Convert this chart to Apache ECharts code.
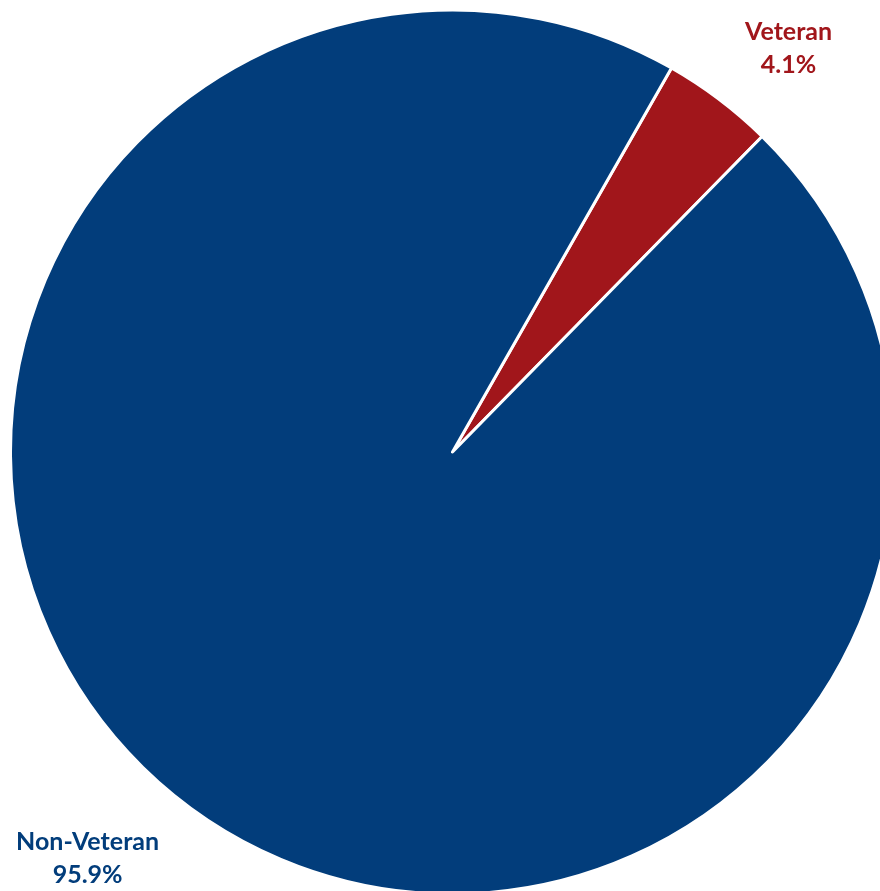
<!DOCTYPE html>
<html>
<head>
<meta charset="utf-8">
<script src="https://cdn.jsdelivr.net/npm/echarts@6/dist/echarts.min.js"></script>
<style>
html,body{margin:0;padding:0;background:#fff;}
#chart{width:880px;height:891px;}
</style>
</head>
<body>
<div id="chart"></div>
<script>
const categories = ['Veteran', 'Non-Veteran'];
const shares = [4.1, 95.9];
const sliceColors = ['#A1161B', '#023D7B'];
const lineLen = [64, 67];
const lineLen2 = [26, 53];

const chart = echarts.init(document.getElementById('chart'), null, {renderer: 'canvas'});
const data = categories.map((name, i) => ({
  name: name,
  value: shares[i],
  itemStyle: {color: sliceColors[i]},
  label: {color: sliceColors[i]},
  labelLine: {length: lineLen[i], length2: lineLen2[i]}
}));
chart.setOption({
  animation: false,
  backgroundColor: '#ffffff',
  series: [{
    type: 'pie',
    center: [452.5, 452],
    radius: 442,
    startAngle: 60.3,
    clockwise: true,
    avoidLabelOverlap: false,
    data: data,
    itemStyle: {borderColor: '#ffffff', borderWidth: 3},
    label: {
      show: true,
      position: 'outside',
      alignTo: 'none',
      width: 180,
      overflow: 'none',
      fontFamily: 'Lato',
      fontWeight: 'bold',
      fontSize: 25,
      lineHeight: 33,
      formatter: p => p.name + '\n' + p.value.toFixed(1) + '%'
    },
    labelLine: {show: false},
    labelLayout: function () { return {align: 'center'}; },
    emphasis: {disabled: true}
  }]
});
</script>
</body>
</html>
